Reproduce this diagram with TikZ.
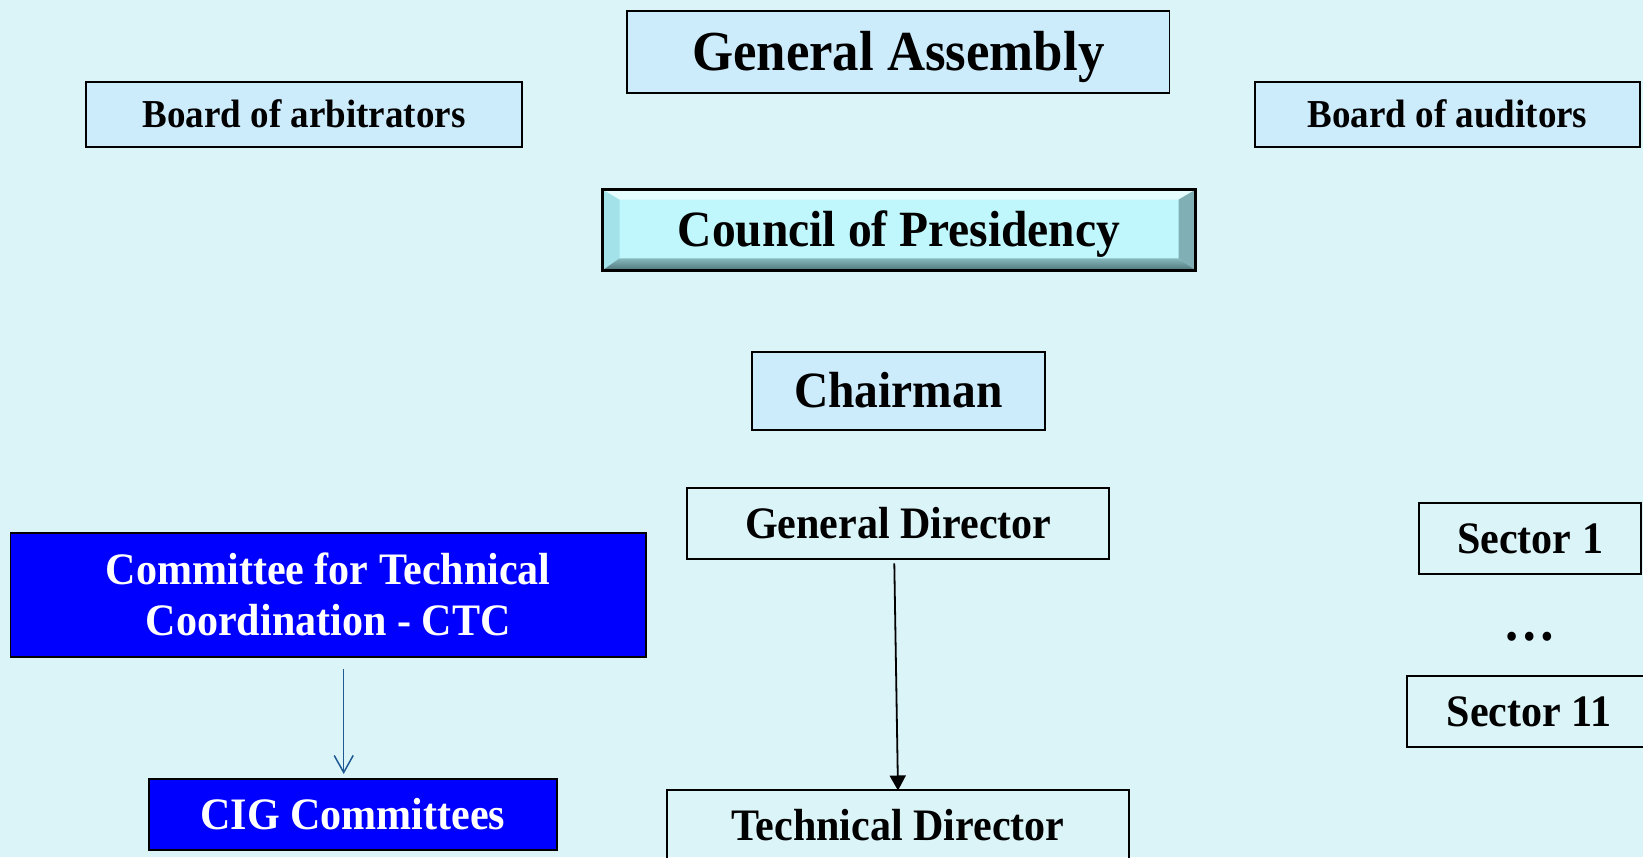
\documentclass[tikz,border=0pt]{standalone}
\usepackage{fontspec}
\setmainfont{Liberation Serif}[FakeStretch=0.935]
\usetikzlibrary{arrows.meta}
\definecolor{bg}{HTML}{DBF4F8}
\definecolor{boxfill}{HTML}{CCECFC}
\definecolor{face}{HTML}{BFF7FC}
\definecolor{bevtop}{HTML}{E6FDFF}
\definecolor{bevleft}{HTML}{A3E2E8}
\definecolor{bevright}{HTML}{80B0B5}
\definecolor{bevbotA}{HTML}{86B8BC}
\definecolor{bevbotB}{HTML}{4E767A}
\definecolor{ctcblue}{HTML}{0000FF}
\definecolor{arrblue}{HTML}{1F5A94}
\begin{document}
\begin{tikzpicture}[x=1pt,y=1pt,
  sz/.style={font=\bfseries\fontsize{#1}{#1}\selectfont, text height={0.8*#1}, text depth={0.14*#1}},
  boxbase/.style={inner sep=0pt, outer sep=0pt, draw=black, line width=1.8pt},
  lightbox/.style={boxbase, fill=boxfill},
  plainbox/.style={boxbase},
  bluebox/.style={boxbase, fill=ctcblue, text=white},
  bevelbox/.style={inner sep=0pt, outer sep=0pt, draw=black, line width=2.6pt, fill=face,
    path picture={
      \fill[bevtop] (path picture bounding box.north west) -- (path picture bounding box.north east)
        -- ([xshift=-17pt,yshift=-10pt]path picture bounding box.north east)
        -- ([xshift=17pt,yshift=-10pt]path picture bounding box.north west) -- cycle;
      \fill[bevleft] (path picture bounding box.north west) -- ([xshift=17pt,yshift=-10pt]path picture bounding box.north west)
        -- ([xshift=17pt,yshift=12pt]path picture bounding box.south west)
        -- (path picture bounding box.south west) -- cycle;
      \fill[bevright] (path picture bounding box.north east) -- ([xshift=-17pt,yshift=-10pt]path picture bounding box.north east)
        -- ([xshift=-17pt,yshift=12pt]path picture bounding box.south east)
        -- (path picture bounding box.south east) -- cycle;
      \shade[top color=bevbotA, bottom color=bevbotB] (path picture bounding box.south west)
        -- ([xshift=17pt,yshift=12pt]path picture bounding box.south west)
        -- ([xshift=-17pt,yshift=12pt]path picture bounding box.south east)
        -- (path picture bounding box.south east) -- cycle;
    }},
  blackarrow/.style={draw=black, line width=1.8pt, -{Triangle[width=16pt,length=15pt]}},
  bluearrow/.style={draw=arrblue, line width=1.5pt, -{Straight Barb[width=19pt,length=17pt]}}
]
\fill[bg] (0,0) rectangle (1643,857);
\useasboundingbox (0,0) rectangle (1643,857);
\clip (0,0) rectangle (1643,857);

\node[lightbox, sz=56.5, minimum width=542.5pt, minimum height=82.6pt] (ga) at (898.25,805) {General Assembly};
\node[lightbox, sz=39.6, minimum width=436pt, minimum height=65pt] (arb) at (304,742.2) {Board of arbitrators};
\node[lightbox, sz=39.6, minimum width=385pt, minimum height=65pt] (aud) at (1447.5,742.5) {Board of auditors};
\node[bevelbox, sz=50.8, minimum width=593pt, minimum height=80.7pt] (cop) at (899,627) {Council of Presidency};
\node[lightbox, sz=50.8, minimum width=293.3pt, minimum height=78.3pt] (chair) at (898.3,466.2) {Chairman};
\node[plainbox, sz=45, minimum width=422pt, minimum height=71.6pt] (gd) at (898.3,333.5) {General Director};
\node[plainbox, sz=45, minimum width=462.6pt, minimum height=72pt] (td) at (898,31) {Technical Director};
\node[bluebox, font=\bfseries\fontsize{45}{51}\selectfont, align=center, minimum width=635.5pt, minimum height=124pt] (ctc) at (328.2,262.3) {Committee for Technical\\Coordination - CTC};
\node[bluebox, sz=45, minimum width=407.7pt, minimum height=71pt] (cig) at (352.8,42.5) {CIG Committees};
\node[plainbox, sz=45, minimum width=222pt, minimum height=71pt] (s1) at (1530,318.5) {Sector 1};
\node[plainbox, sz=45, minimum width=244pt, minimum height=71pt] (s11) at (1529,145.5) {Sector 11};
\node[font=\bfseries\fontsize{56}{56}\selectfont, inner sep=0pt, anchor=base] (dots) at (1530,216) {…};

\draw[blackarrow] ([xshift=-4pt,yshift=-4pt]gd.south) -- ([yshift=-0.5pt]td.north);
\draw[bluearrow] ([xshift=15.5pt,yshift=-12.3pt]ctc.south) -- ([xshift=-9.1pt,yshift=5pt]cig.north);
\end{tikzpicture}
\end{document}
